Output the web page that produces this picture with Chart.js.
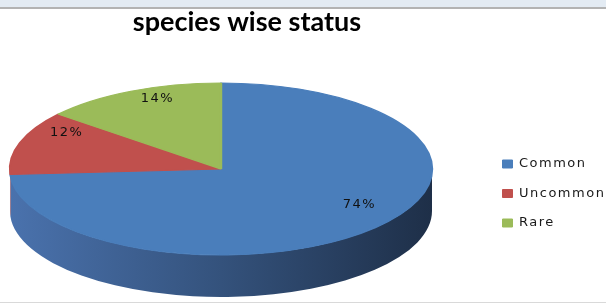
<!DOCTYPE html>
<html>
<head>
<meta charset="utf-8">
<script src="https://cdn.jsdelivr.net/npm/chart.js@4.4.1/dist/chart.umd.min.js"></script>
<style>
  html, body { margin: 0; padding: 0; background: #fff; overflow: hidden; }
  #wrap { position: relative; width: 606px; height: 304px; }
  #topbar { position: absolute; left: 0; top: 0; width: 606px; height: 7px; background: #e3ebf3; border-bottom: 2px solid #b3b3b3; }
  #bottomline { position: absolute; left: 0; top: 302px; width: 606px; height: 1px; background: #d9d9d9; }
</style>
</head>
<body>
<div id="wrap">
  <canvas id="chart" width="606" height="304"></canvas>
  <div id="topbar"></div>
  <div id="bottomline"></div>
</div>
<script>
// 데이터 (퍼센트)
const categories = ['Common', 'Uncommon', 'Rare'];
const shares = [74, 12, 14];
const sliceColors = ['#4a7ebb', '#c0504d', '#9bbb59'];
// 옆면 그라데이션 (왼쪽 -> 오른쪽)
const wallStops = [
  ['#4a72ad', '#34527c', '#1e2f48'],
  ['#a64341', '#7f3331', '#531f1e'],
  ['#86a24b', '#667c38', '#435224']
];

// 3D 파이 흉내: 옆면 그리고, 윗면은 가로로 늘림
const pie3d = {
  id: 'pie3d',
  afterLayout(chart, args, opts) {
    // 범례를 오른쪽으로 옮김 (엑셀 배치처럼)
    const leg = chart.legend;
    leg.left += opts.legendShift;
    leg.right = chart.width;
    leg.width = leg.right - leg.left;
    leg.top += 2;
    leg.bottom += 2;
    if (!leg._spaced) {
      const orig = leg.draw.bind(leg);
      leg.draw = function (area) {
        chart.ctx.letterSpacing = '1.5px';
        orig(area);
        chart.ctx.letterSpacing = '0px';
      };
      leg._spaced = true;
    }
  },
  beforeDatasetsDraw(chart, args, opts) {
    const ctx = chart.ctx;
    const meta = chart.getDatasetMeta(0);
    const {x, y, outerRadius: r} = meta.data[0].getProps(['x', 'y', 'outerRadius'], true);

    ctx.save();
    ctx.translate(x, y);
    ctx.scale(opts.stretch, 1);
    meta.data.forEach((arc, i) => {
      const p = arc.getProps(['startAngle', 'endAngle'], true);
      const a0 = Math.max(p.startAngle, 0);
      const a1 = Math.min(p.endAngle, Math.PI);
      if (a1 <= a0) return;
      const g = ctx.createLinearGradient(-r, 0, r, 0);
      g.addColorStop(0, wallStops[i][0]);
      g.addColorStop(0.5, wallStops[i][1]);
      g.addColorStop(1, wallStops[i][2]);
      ctx.beginPath();
      ctx.arc(0, 0, r, a0, a1);
      ctx.arc(0, opts.depth, r, a1, a0, true);
      ctx.closePath();
      ctx.fillStyle = g;
      ctx.fill();
    });
    ctx.restore();

    // 윗면
    ctx.save();
    ctx.translate(x, y);
    ctx.scale(opts.stretch, 1);
    ctx.translate(-x, -y);
  },
  afterDatasetsDraw(chart, args, opts) {
    const ctx = chart.ctx;
    ctx.restore();

    // 퍼센트 라벨 - 원근감 있게 (엑셀 3D처럼 중심이 위로 올라감)
    const meta = chart.getDatasetMeta(0);
    ctx.save();
    ctx.font = '13px "DejaVu Sans"';
    ctx.letterSpacing = '1.4px';
    ctx.fillStyle = '#111';
    ctx.textAlign = 'center';
    ctx.textBaseline = 'middle';
    meta.data.forEach((arc, i) => {
      const p = arc.getProps(['x', 'y', 'startAngle', 'endAngle', 'outerRadius'], true);
      const r = p.outerRadius;
      const e = -opts.lift / r;
      const mid = (p.startAngle + p.endAngle) / 2;
      const u = Math.cos(mid) * opts.labelAt;
      const v = Math.sin(mid) * opts.labelAt;
      const w = 1 + e * v;
      const lx = p.x + u * r * opts.stretch * Math.sqrt(1 - e * e) / w;
      const ly = p.y + (v * r - opts.lift) / w;
      ctx.fillText(shares[i] + '%', lx, ly);
    });
    ctx.restore();
  }
};

new Chart(document.getElementById('chart'), {
  type: 'pie',
  data: {
    labels: categories,
    datasets: [{
      data: shares,
      backgroundColor: sliceColors,
      borderColor: sliceColors,
      borderWidth: 1,
      radius: 86,
      clip: false
    }]
  },
  options: {
    responsive: false,
    animation: false,
    layout: { padding: { left: 0, right: 112, top: 0, bottom: 60 } },
    plugins: {
      title: {
        display: true,
        text: 'species wise status',
        color: '#000',
        font: { family: 'Lato', size: 27, weight: 'bold' },
        padding: { top: 6, bottom: 55.6 }
      },
      legend: {
        position: 'right',
        align: 'end',
        maxWidth: 52,
        labels: {
          boxWidth: 10,
          boxHeight: 8,
          padding: 16.5,
          color: '#1a1a1a',
          font: { family: 'DejaVu Sans', size: 13 }
        }
      },
      tooltip: { enabled: false },
      pie3d: { stretch: 211 / 86, depth: 42, labelAt: 0.82, lift: 16, legendShift: 44 }
    }
  },
  plugins: [pie3d]
});
</script>
</body>
</html>
